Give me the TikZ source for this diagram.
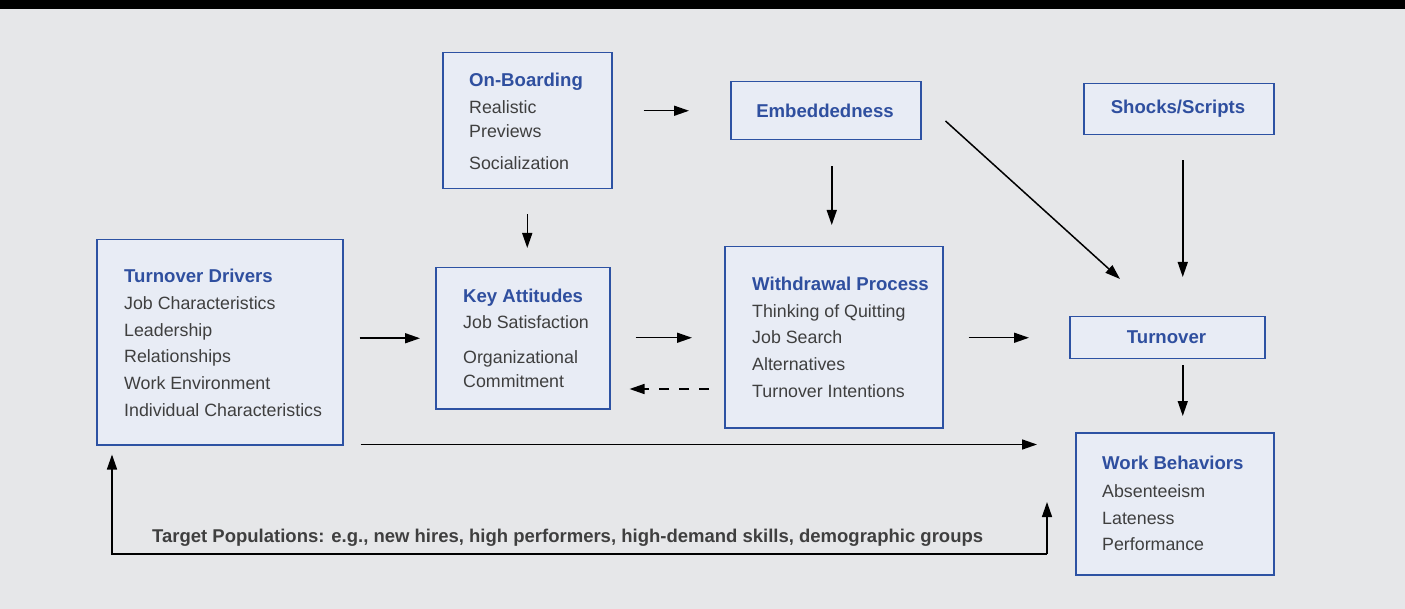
\documentclass[tikz,border=0pt]{standalone}
\usepackage{fontspec}
\setmainfont{Liberation Sans}
\usetikzlibrary{arrows.meta,calc}
\definecolor{bg}{HTML}{E6E7E9}
\definecolor{boxfill}{HTML}{E8ECF5}
\definecolor{boxline}{HTML}{2D52A3}
\definecolor{titleblue}{HTML}{2F4F9F}
\definecolor{bodygray}{HTML}{3F3F3F}
\begin{document}
\begin{tikzpicture}[x=1pt,y=-1pt,
 box/.style={draw=boxline,fill=boxfill,line width=1.5pt,inner sep=0pt,anchor=north west},
 ttl/.style={anchor=base west,inner sep=0pt,text=titleblue,font=\fontsize{18.6}{20}\selectfont\bfseries},
 ctl/.style={inner sep=0pt,text=titleblue,font=\fontsize{18.6}{20}\selectfont\bfseries},
 itm/.style={anchor=base west,inner sep=0pt,text=bodygray,font=\fontsize{17.8}{20}\selectfont},
 arr/.style={-{Triangle[length=15pt,width=10pt]},line width=1.5pt,black},
]
\fill[bg] (0,0) rectangle (1405,609);
\fill[black] (0,0) rectangle (1405,9.5);
\useasboundingbox (0,0) rectangle (1405,609);

% boxes
\node[box,minimum width=246pt,minimum height=205pt] (drv) at (96,239) {};
\node[box,minimum width=174pt,minimum height=141pt] (key) at (435,267) {};
\node[box,minimum width=169pt,minimum height=136pt] (ob) at (442,52) {};
\node[box,minimum width=190pt,minimum height=58pt] (emb) at (730,81) {};
\node[box,minimum width=190pt,minimum height=51pt] (shk) at (1083,83) {};
\node[box,minimum width=218pt,minimum height=181pt] (wp) at (724,246) {};
\node[box,minimum width=195pt,minimum height=42pt] (tov) at (1069,316) {};
\node[box,minimum width=198pt,minimum height=142pt] (wb) at (1075,432) {};

% Turnover Drivers
\node[ttl] (drv0) at (124,282.5) {Turnover Drivers};
\node[itm] (drv1) at (124,309.5) {Job Characteristics};
\node[itm] (drv2) at (124,336.5) {Leadership};
\node[itm] (drv3) at (124,362.5) {Relationships};
\node[itm] (drv4) at (124,389.5) {Work Environment};
\node[itm] (drv5) at (124,416.5) {Individual Characteristics};

% Key Attitudes
\node[ttl] (key0) at (463,302.5) {Key Attitudes};
\node[itm] (key1) at (463,328.5) {Job Satisfaction};
\node[itm] (key2) at (463,363.5) {Organizational};
\node[itm] (key3) at (463,387.5) {Commitment};

% On-Boarding
\node[ttl] (ob0) at (469,86.5) {On-Boarding};
\node[itm] (ob1) at (469,113.5) {Realistic};
\node[itm] (ob2) at (469,137.5) {Previews};
\node[itm] (ob3) at (469,169.5) {Socialization};

% Withdrawal Process
\node[ttl] (wp0) at (752,290.5) {Withdrawal Process};
\node[itm] (wp1) at (752,317.5) {Thinking of Quitting};
\node[itm] (wp2) at (752,343.5) {Job Search};
\node[itm] (wp3) at (752,370.5) {Alternatives};
\node[itm] (wp4) at (752,397.5) {Turnover Intentions};

% Work Behaviors
\node[ttl] (wb0) at (1102,469.5) {Work Behaviors};
\node[itm] (wb1) at (1102,497.5) {Absenteeism};
\node[itm] (wb2) at (1102,524.5) {Lateness};
\node[itm] (wb3) at (1102,550.5) {Performance};

% centred titles
\node[ctl] (embt) at (825,110.5) {Embeddedness};
\node[ctl] (shkt) at (1178,108.5) {Shocks/Scripts};
\node[ctl] (tovt) at (1166.5,337.5) {Turnover};

% target populations
\node[anchor=base west,inner sep=0pt,text=bodygray,font=\fontsize{18.5}{20}\selectfont\bfseries] (tgt) at (152,542.5) {Target Populations: e.g., new hires, high performers, high-demand skills, demographic groups};

% connectors
\draw[arr] ($(ob.east |- emb.west)+(31,0)$) -- ($(emb.west)+(-41,0)$);
\draw[arr] ($(ob.south)+(0,25)$) -- ($(ob.south |- key.north)+(0,-19)$);
\draw[arr] ($(drv.east |- key.west)+(16,0)$) -- ($(key.west)+(-15,0)$);
\draw[arr] ($(key.east |- tov.west)+(25,0)$) -- ($(wp.west |- tov.west)+(-32,0)$);
\draw[arr,dashed,dash pattern=on 10pt off 10pt] ($(wp.west |- 0,389)+(-15,0)$) -- ($(key.east |- 0,389)+(19,0)$);
\draw[arr] ($(emb.south)+(6,26)$) -- ($(emb.south |- wp.north)+(6,-21)$);
\draw[arr] ($(emb.north east)+(24,40)$) -- ($(tov.north west)+(51,-37)$);
\draw[arr] ($(shk.south)+(4,25)$) -- ($(shk.south |- tov.north)+(4,-39)$);
\draw[arr] ($(wp.east |- tov.west)+(25,0)$) -- ($(tov.west)+(-40,0)$);
\draw[arr] ($(tov.south -| shk.south)+(4,6)$) -- ($(shk.south |- wb.north)+(4,-16)$);
\draw[arr] ($(drv.south east)+(17,-1)$) -- ($(wb.west |- drv.south)+(-38,-1)$);
\coordinate (lb) at (112,554);
\coordinate (rb) at (1047,554);
\draw[arr] (rb) -- (rb |- 0,502);
\draw[arr] (rb) -- (lb) -- ($(lb |- drv.south)+(0,9)$);
\end{tikzpicture}
\end{document}
